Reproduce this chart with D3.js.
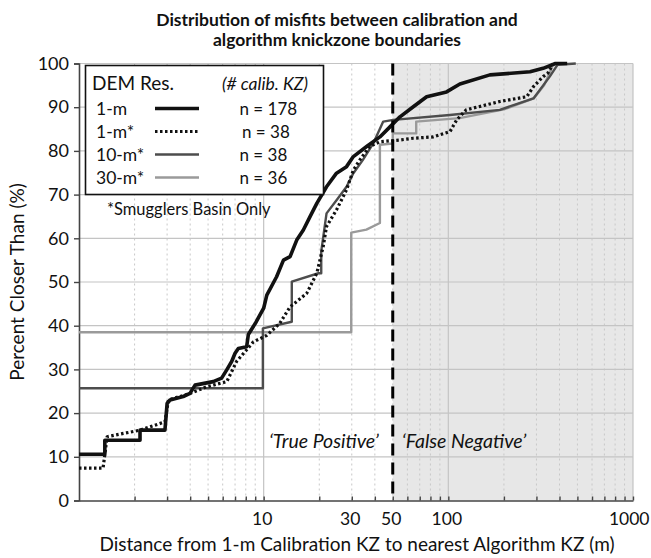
<!DOCTYPE html>
<html>
<head>
<meta charset="utf-8">
<script src="https://cdn.jsdelivr.net/npm/d3@7"></script>
<style>
  html, body { margin: 0; padding: 0; background: #fff; }
  svg { display: block; font-family: Lato, "Open Sans", sans-serif; }
</style>
</head>
<body>
<svg id="chart" width="651" height="558"></svg>
<script>
// misfit distance (m) vs percent closer than
const titleLines = ['Distribution of misfits between calibration and', 'algorithm knickzone boundaries'];
const seriesNames = ['1-m', '1-m*', '10-m*', '30-m*'];
const seriesCounts = ['n = 178', 'n = 38', 'n = 38', 'n = 36'];
const xTickLabels = [10, 30, 50, 100, 1000];
const yTicks = [0, 10, 20, 30, 40, 50, 60, 70, 80, 90, 100];
const cutoff = 50;

const res1m = [
  [1, 10.6], [1.38, 10.6], [1.38, 13.8], [2.14, 13.8], [2.14, 16.1], [2.92, 16.1], [3.0, 22.2],
  [3.11, 23.0], [3.67, 23.8], [3.99, 24.5], [4.25, 26.4], [5.33, 27.2], [5.92, 28.0],
  [6.31, 29.9], [6.71, 31.8], [7.0, 33.7], [7.29, 34.8], [8.09, 35.2], [8.26, 38],
  [9.0, 40.5], [10, 44], [10.4, 47], [11.75, 51.2], [12.8, 55], [13.9, 55.8], [15.1, 59.6],
  [16.4, 61.9], [17.8, 64.9], [19.4, 68], [21.9, 71.8], [24.8, 74.9], [28.1, 76.4],
  [30.6, 78.7], [36.1, 81], [42.6, 83.2], [48.3, 85.5], [54.7, 87.8], [64.6, 90.1],
  [76.3, 92.4], [97.8, 93.5], [115.5, 95.3], [168, 97.4], [277, 98.1], [326, 98.9],
  [380, 100], [440, 100]
];
const res1mStar = [
  [1, 7.4], [1.35, 7.4], [1.42, 14.6], [2.14, 16.1], [2.92, 18.0], [3.05, 23.0], [3.99, 24.5],
  [4.9, 26.0], [6.31, 27.2], [7.13, 31.8], [8.8, 36.3], [10.4, 37.8], [12.2, 40.5],
  [13.9, 44.3], [17.1, 47.4], [19.4, 52.0], [21.0, 58.1], [21.9, 62.7], [24.8, 66.5],
  [28.1, 71.1], [30.6, 75.6], [33.1, 77.9], [37.5, 81.0], [42.6, 82.1], [54.7, 82.5],
  [64.6, 82.9], [82.8, 83.2], [102, 84.4], [111, 87.1], [125, 89.4], [190, 91.3],
  [266, 92.4], [289, 94.7], [326, 97.0], [346, 97.8], [370, 100]
];
const res10mStar = [
  [1, 25.7], [9.9, 25.7], [9.9, 39.4], [14.2, 40.9], [14.2, 50.1], [19.8, 52], [20.5, 52],
  [20.5, 57], [21.9, 65.7], [24.8, 68.7], [28.1, 71.8], [30.6, 74.9], [34.4, 77.9],
  [39.2, 81.7], [44.4, 86.7], [50.4, 87.1], [102, 88.2], [190, 89.4], [289, 92],
  [354, 97], [390, 99.7], [490, 100]
];
const res30mStar = [
  [1, 38.5], [29.8, 38.5], [29.8, 61.3], [36, 62], [42.6, 63.5], [42.6, 81.4], [50, 81.7],
  [50, 84], [67, 84], [67, 86.7], [115, 87.5], [200, 89.5], [290, 92], [330, 95],
  [355, 98], [370, 100]
];

const seriesData = [res1m, res1mStar, res10mStar, res30mStar];
const seriesStyle = [
  { color: '#111', width: 3.6, dash: null },
  { color: '#111', width: 3.2, dash: '2.5,2.5' },
  { color: '#4d4d4d', width: 2.4, dash: null },
  { color: '#9a9a9a', width: 2.4, dash: null }
];

const margin = { top: 63.5, right: 18, bottom: 56, left: 79 };
const width = 651, height = 558;
const svg = d3.select('#chart');

const x = d3.scaleLog().domain([1, 1000]).range([margin.left, width - margin.right]);
const y = d3.scaleLinear().domain([0, 100]).range([height - margin.bottom - 1.5, margin.top]);

// title
svg.append('g').selectAll('text')
  .data(titleLines)
  .enter().append('text')
  .attr('x', 337)
  .attr('y', (d, i) => 26 + i * 19.5)
  .attr('text-anchor', 'middle')
  .attr('font-size', 17.5)
  .attr('font-weight', 'bold')
  .attr('fill', '#111')
  .text(d => d);

// shaded "false negative" zone
svg.append('rect')
  .attr('x', x(cutoff))
  .attr('y', y(100))
  .attr('width', x(1000) - x(cutoff))
  .attr('height', y(0) - y(100))
  .attr('fill', '#e7e7e7');

// grid
const minorTicks = [];
[1, 10, 100].forEach(dec => { for (let k = 2; k <= 9; k++) minorTicks.push(dec * k); });
const majorTicks = [10, 100, 1000];

svg.append('g').selectAll('line')
  .data(minorTicks)
  .enter().append('line')
  .attr('x1', d => x(d)).attr('x2', d => x(d))
  .attr('y1', y(0)).attr('y2', y(100))
  .attr('stroke', '#c8c8c8')
  .attr('stroke-width', 1)
  .attr('stroke-dasharray', '2,3');

svg.append('g').selectAll('line')
  .data(majorTicks)
  .enter().append('line')
  .attr('x1', d => x(d)).attr('x2', d => x(d))
  .attr('y1', y(0)).attr('y2', y(100))
  .attr('stroke', '#c4c4c4')
  .attr('stroke-width', 1.2);

svg.append('g').selectAll('line')
  .data(yTicks.slice(1))
  .enter().append('line')
  .attr('x1', x(1)).attr('x2', x(1000))
  .attr('y1', d => y(d)).attr('y2', d => y(d))
  .attr('stroke', '#c4c4c4')
  .attr('stroke-width', 1.2);

// axes
const yAxis = d3.axisLeft(y).tickValues(yTicks).tickSize(5).tickPadding(5).tickFormat(d3.format('d'));
const yG = svg.append('g').attr('transform', `translate(${x(1)},0)`).call(yAxis);
yG.select('.domain').attr('stroke', '#444').attr('stroke-width', 1.6);
yG.selectAll('.tick line').attr('stroke', '#444').attr('stroke-width', 1.4);
yG.selectAll('.tick text').attr('font-size', 18).attr('font-family', 'Lato, sans-serif').attr('fill', '#111');

const xAxis = d3.axisBottom(x).tickValues(minorTicks.concat(majorTicks)).tickSize(-4).tickSizeOuter(0)
  .tickFormat(d => xTickLabels.includes(d) ? d : '');
const xG = svg.append('g').attr('transform', `translate(0,${y(0)})`).call(xAxis);
xG.select('.domain').attr('stroke', '#444').attr('stroke-width', 1.6);
xG.selectAll('.tick line').attr('stroke', '#444').attr('stroke-width', 1.4);
xG.selectAll('.tick text').attr('font-size', 17.5).attr('font-family', 'Lato, sans-serif')
  .attr('fill', '#111').attr('dy', '1.2em').attr('dx', -2);
// last label sits flush with the right edge, like the original
xG.selectAll('.tick text').filter(d => d === 1000).attr('text-anchor', 'end').attr('dx', 16);

// extra x labels not on the tick list (50)
svg.append('g').selectAll('text')
  .data(xTickLabels.filter(d => !minorTicks.includes(d) && !majorTicks.includes(d)))
  .enter().append('text')
  .attr('x', d => x(d) - 1).attr('y', y(0) + 26)
  .attr('text-anchor', 'middle').attr('font-size', 17.5).attr('fill', '#111')
  .text(d => d);

// series
const line = d3.line().x(d => x(d[0])).y(d => y(d[1]));
const plot = svg.append('g');
[3, 2, 1, 0].forEach(i => {
  plot.append('path')
    .datum(seriesData[i])
    .attr('d', line)
    .attr('fill', 'none')
    .attr('stroke', seriesStyle[i].color)
    .attr('stroke-width', seriesStyle[i].width)
    .attr('stroke-linejoin', 'round')
    .attr('stroke-dasharray', seriesStyle[i].dash);
});

// dashed cutoff line
svg.append('line')
  .attr('x1', x(cutoff)).attr('x2', x(cutoff))
  .attr('y1', y(100)).attr('y2', y(0))
  .attr('stroke', '#000')
  .attr('stroke-width', 3)
  .attr('stroke-dasharray', '12,7');

// zone labels
svg.append('text')
  .attr('x', x(cutoff) - 14).attr('y', 448)
  .attr('text-anchor', 'end').attr('font-size', 19.5).attr('font-style', 'italic').attr('fill', '#111')
  .text('\u2018True Positive\u2019');
svg.append('text')
  .attr('x', x(cutoff) + 9).attr('y', 448)
  .attr('font-size', 19.5).attr('font-style', 'italic').attr('fill', '#111')
  .text('\u2018False Negative\u2019');

// legend
const legend = svg.append('g');
legend.append('rect')
  .attr('x', 85.5).attr('y', 65.5).attr('width', 238).attr('height', 129)
  .attr('fill', '#fff').attr('stroke', '#111').attr('stroke-width', 1.6);
legend.append('text').attr('x', 92).attr('y', 90).attr('font-size', 19).attr('fill', '#111').text('DEM Res.');
legend.append('text').attr('x', 222).attr('y', 90).attr('font-size', 17.5).attr('font-style', 'italic')
  .attr('fill', '#111').text('(# calib. KZ)');

const rows = legend.selectAll('g.row')
  .data(seriesNames)
  .enter().append('g')
  .attr('class', 'row')
  .attr('transform', (d, i) => `translate(0,${108.5 + i * 23})`);
rows.append('text').attr('x', 96).attr('y', 6.5).attr('font-size', 17.5).attr('fill', '#111').text(d => d);
rows.append('line')
  .attr('x1', 155).attr('x2', 199).attr('y1', 0).attr('y2', 0)
  .attr('stroke', (d, i) => seriesStyle[i].color)
  .attr('stroke-width', (d, i) => seriesStyle[i].width)
  .attr('stroke-dasharray', (d, i) => seriesStyle[i].dash);
rows.append('text').attr('x', (d, i) => i === 1 ? 242 : 239.5).attr('y', 6.5).attr('font-size', 17)
  .attr('fill', '#111').text((d, i) => seriesCounts[i]);

svg.append('text')
  .attr('x', 107).attr('y', 215).attr('font-size', 16.5).attr('fill', '#111')
  .text('*Smugglers Basin Only');

// axis titles
svg.append('text')
  .attr('x', 357).attr('y', 551)
  .attr('text-anchor', 'middle').attr('font-size', 19).attr('fill', '#111')
  .text('Distance from 1-m Calibration KZ to nearest Algorithm KZ (m)');
svg.append('text')
  .attr('transform', `translate(24,${(y(0) + y(100)) / 2}) rotate(-90)`)
  .attr('text-anchor', 'middle').attr('font-size', 19).attr('fill', '#111')
  .text('Percent Closer Than (%)');
</script>
</body>
</html>
